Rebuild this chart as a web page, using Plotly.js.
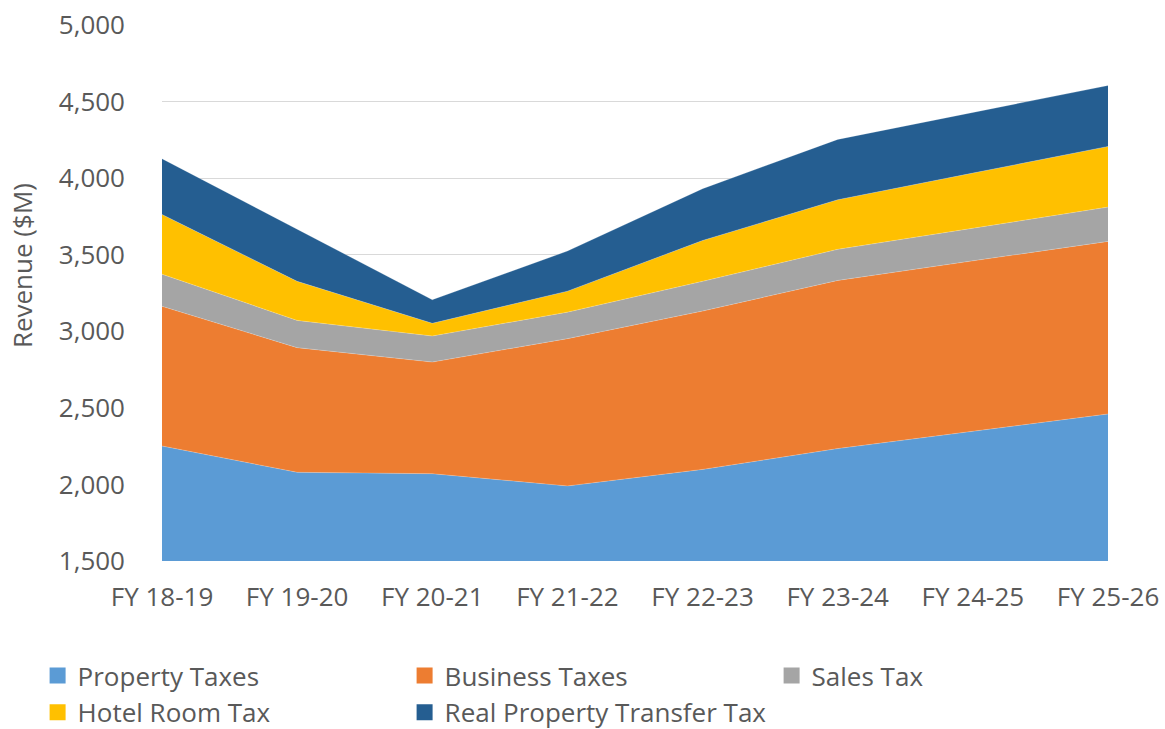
<!DOCTYPE html>
<html>
<head>
<meta charset="utf-8">
<script src="https://cdn.plot.ly/plotly-3.0.1.min.js"></script>
<style>html,body{margin:0;padding:0;background:#fff;}#chart{width:1165px;height:729px;}</style>
</head>
<body>
<div id="chart"></div>
<script>
const categories = ["FY 18-19","FY 19-20","FY 20-21","FY 21-22","FY 22-23","FY 23-24","FY 24-25","FY 25-26"];
const propertyTaxes = [2251, 2079, 2070, 1990, 2098, 2234, 2347, 2460];
const businessTaxes = [912, 814, 729, 962, 1034, 1098, 1113, 1127];
const salesTax = [210, 178, 170, 173, 194, 203, 213, 224];
const hotelRoomTax = [390, 255, 83, 137, 267, 324, 360, 396];
const transferTax = [364, 340, 154, 262, 338, 394, 396, 398];
const yTicks = [1500, 2000, 2500, 3000, 3500, 4000, 4500, 5000];

const seriesNames = ["Property Taxes","Business Taxes","Sales Tax","Hotel Room Tax","Real Property Transfer Tax"];
const seriesValues = [propertyTaxes, businessTaxes, salesTax, hotelRoomTax, transferTax];
const colors = ["#5B9BD5","#ED7D31","#A5A5A5","#FFC000","#255E91"];

const areaTraces = seriesNames.map((n, i) => ({
  type: "scatter",
  mode: "lines",
  x: categories,
  y: seriesValues[i],
  name: n,
  legendgroup: n,
  showlegend: false,
  stackgroup: "one",
  fillcolor: colors[i],
  line: {width: 0.6, color: "rgba(255,255,255,0.35)"},
  hoverinfo: "x+y+name"
}));
// legend-only entries with square swatches (no data drawn)
const legendTraces = seriesNames.map((n, i) => ({
  type: "scatter",
  mode: "markers",
  x: [null],
  y: [null],
  name: n,
  legendgroup: n,
  showlegend: true,
  marker: {symbol: "square", size: 17, color: colors[i]},
  hoverinfo: "skip"
}));

const fam = "Open Sans, Liberation Sans, sans-serif";
const font = {family: fam, size: 26, color: "#595959"};

const layout = {
  width: 1165, height: 729,
  margin: {l: 162, r: 57, t: 25, b: 168, autoexpand: false},
  paper_bgcolor: "#fff", plot_bgcolor: "#fff",
  font: font,
  showlegend: true,
  legend: {
    orientation: "h",
    xref: "paper", yref: "paper",
    x: -0.1315, y: -0.170, xanchor: "left", yanchor: "top",
    entrywidth: 322, entrywidthmode: "pixels",
    traceorder: "normal",
    font: {family: fam, size: 26, color: "#595959"},
    itemwidth: 30
  },
  xaxis: {
    type: "category",
    range: [0, 7],
    showgrid: false,
    zeroline: false,
    showline: false,
    ticks: "",
    ticklabelstandoff: 18,
    tickfont: font,
    automargin: false,
    fixedrange: true
  },
  yaxis: {
    range: [1500, 5000],
    tickvals: yTicks,
    tickformat: ",d",
    showgrid: true,
    gridcolor: "#D9D9D9",
    gridwidth: 1,
    zeroline: false,
    showline: false,
    ticks: "",
    ticklabelstandoff: 36,
    tickfont: font,
    automargin: false,
    fixedrange: true
  },
  annotations: [{
    text: "Revenue ($M)",
    textangle: -90,
    xref: "paper", yref: "paper",
    x: -0.148, y: 0.552,
    xanchor: "center", yanchor: "middle",
    showarrow: false,
    font: font
  }]
};

Plotly.newPlot("chart", [...areaTraces, ...legendTraces], layout, {displayModeBar: false, staticPlot: true});
</script>
</body>
</html>
